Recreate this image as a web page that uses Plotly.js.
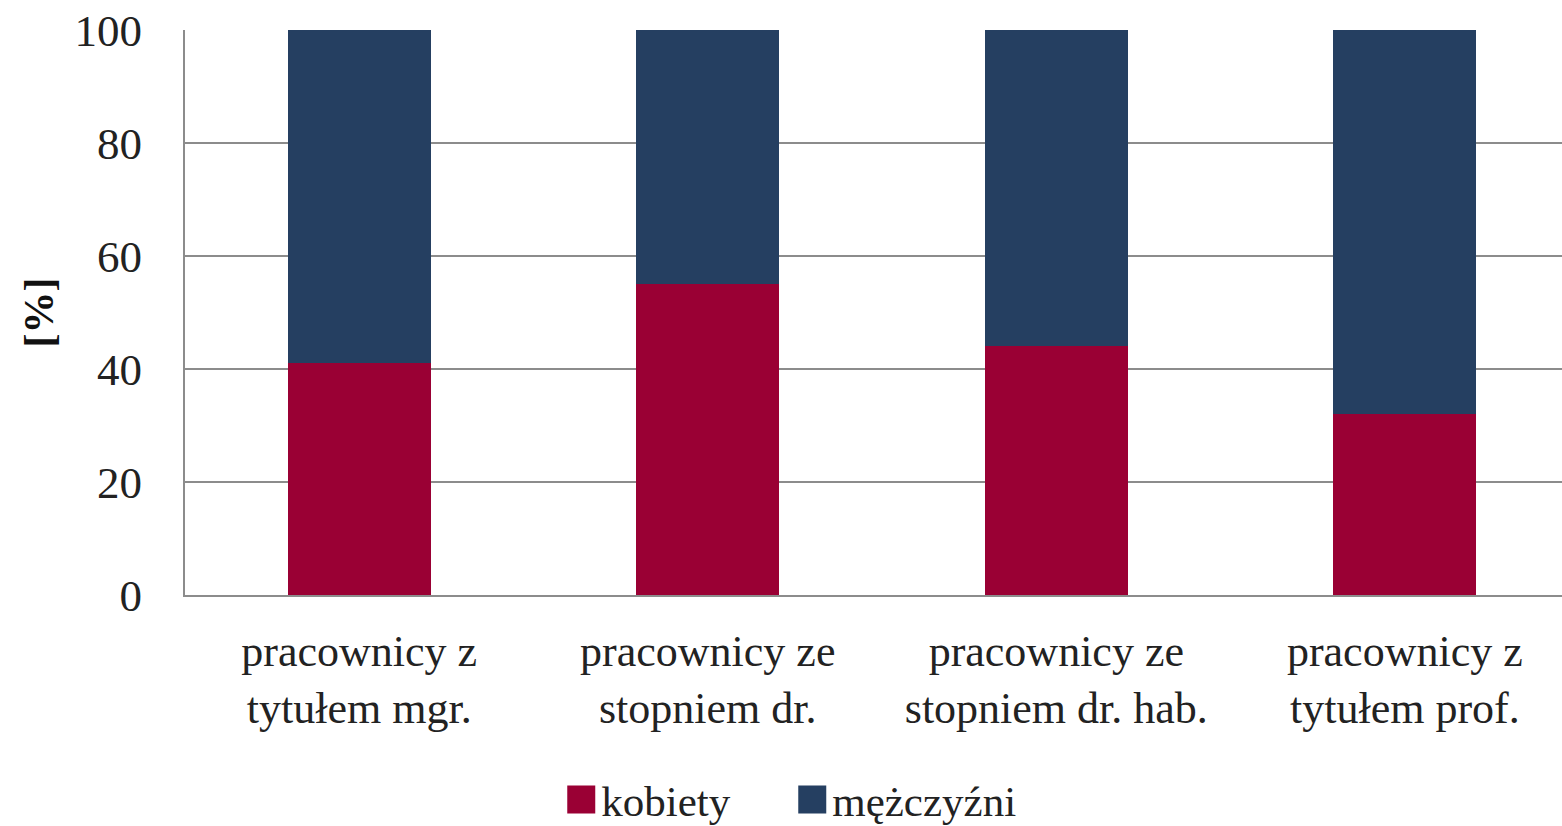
<!DOCTYPE html>
<html>
<head>
<meta charset="utf-8">
<script src="https://cdn.plot.ly/plotly-3.0.1.min.js"></script>
<style>html,body{margin:0;padding:0;background:#fff;}#chart{width:1562px;height:826px;}</style>
</head>
<body>
<div id="chart"></div>
<script>
var categories = ["pracownicy z<br>tytułem mgr.", "pracownicy ze<br>stopniem dr.", "pracownicy ze<br>stopniem dr. hab.", "pracownicy z<br>tytułem prof."];
var kobiety = [41, 55, 44, 32];
var mezczyzni = [59, 45, 56, 68];
var yTicks = [0, 20, 40, 60, 80, 100];

var FONT = "Liberation Serif, Times New Roman, serif";

var data = [
  {type: "bar", name: "kobiety", x: [0,1,2,3], y: kobiety, marker: {color: "#9A0034"}, width: 0.41},
  {type: "bar", name: "mężczyźni", x: [0,1,2,3], y: mezczyzni, marker: {color: "#253F61"}, width: 0.41}
];

var layout = {
  width: 1562, height: 826,
  margin: {l: 185, r: 0, t: 30, b: 231, autoexpand: false},
  barmode: "stack",
  paper_bgcolor: "#fff", plot_bgcolor: "#fff",
  font: {family: FONT, size: 44, color: "#222"},
  showlegend: true,
  legend: {orientation: "h", traceorder: "normal", x: 0.441, xanchor: "center", y: -0.362, yanchor: "middle",
           font: {family: FONT, size: 43, color: "#222"}, itemwidth: 30, tracegroupgap: 0,
           entrywidth: 186, entrywidthmode: "pixels"},
  xaxis: {
    range: [-0.5, 3.451], tickmode: "array", tickvals: [0,1,2,3], ticktext: categories,
    showgrid: false, zeroline: false, showline: true, linecolor: "#8c8c8c", linewidth: 2,
    ticks: "", tickfont: {family: FONT, size: 44, color: "#222"}, ticklabelstandoff: 16,
    automargin: false, fixedrange: true
  },
  yaxis: {
    range: [0, 100], tickmode: "array", tickvals: yTicks, ticktext: yTicks.map(String),
    showgrid: true, gridcolor: "#8c8c8c", gridwidth: 2, zeroline: false,
    showline: true, linecolor: "#8c8c8c", linewidth: 2, ticks: "",
    tickfont: {family: FONT, size: 45, color: "#222"}, ticklabelstandoff: 32,
    title: {text: "<b>[%]</b>", font: {family: FONT, size: 42, color: "#111"}, standoff: 8},
    automargin: false, fixedrange: true
  }
};

Plotly.newPlot("chart", data, layout, {displayModeBar: false, staticPlot: true}).then(function(gd){
  var pts = gd.querySelectorAll(".legend .legendpoints path");
  pts.forEach(function(p){ p.setAttribute("d", "M14,14H-14V-14H14Z"); });
});
</script>
</body>
</html>
